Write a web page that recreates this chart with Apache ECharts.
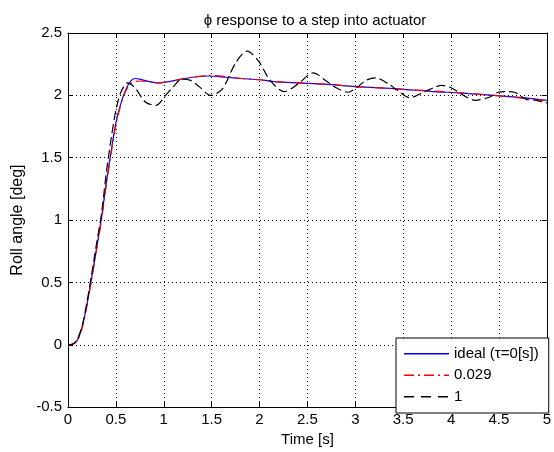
<!DOCTYPE html>
<html>
<head>
<meta charset="utf-8">
<script src="https://cdn.jsdelivr.net/npm/echarts@6/dist/echarts.min.js"></script>
<style>
  html, body { margin: 0; padding: 0; background: #fff; }
  #chart { width: 554px; height: 452px; }
</style>
</head>
<body>
<div id="chart"></div>
<script>
// Step response of the roll angle for three actuator time constants
const xTicks = [0, 0.5, 1, 1.5, 2, 2.5, 3, 3.5, 4, 4.5, 5];
const yTicks = [-0.5, 0, 0.5, 1, 1.5, 2, 2.5];
const seriesNames = ['ideal (τ=0[s])', '0.029', '1'];

// [time (s), roll angle (deg)]
const idealResponse = [
  [0, 0], [0.05, 0.005], [0.1, 0.04], [0.15, 0.15], [0.2, 0.33], [0.25, 0.55],
  [0.3, 0.78], [0.35, 1.02], [0.4, 1.3], [0.45, 1.55], [0.5, 1.78], [0.55, 1.93],
  [0.6, 2.04], [0.65, 2.11], [0.7, 2.135], [0.75, 2.13], [0.85, 2.11], [0.95, 2.1],
  [1.05, 2.11], [1.15, 2.125], [1.3, 2.145], [1.47, 2.155], [1.65, 2.145],
  [1.81, 2.135], [2.0, 2.125], [2.16, 2.11], [2.4, 2.1], [2.68, 2.09], [3.0, 2.07],
  [3.25, 2.06], [3.47, 2.05], [3.82, 2.03], [4.09, 2.02], [4.44, 2.0], [4.78, 1.98],
  [5.0, 1.96]
];
const tau0029Response = [
  [0, 0], [0.05, 0.004], [0.1, 0.035], [0.15, 0.14], [0.2, 0.32], [0.25, 0.54],
  [0.3, 0.77], [0.35, 1.0], [0.4, 1.28], [0.45, 1.53], [0.5, 1.76], [0.55, 1.92],
  [0.6, 2.03], [0.65, 2.09], [0.7, 2.11], [0.75, 2.115], [0.85, 2.11], [0.95, 2.1],
  [1.05, 2.11], [1.15, 2.125], [1.3, 2.145], [1.47, 2.16], [1.65, 2.15],
  [1.81, 2.135], [2.0, 2.125], [2.16, 2.11], [2.4, 2.1], [2.68, 2.09], [3.0, 2.07],
  [3.25, 2.06], [3.47, 2.05], [3.82, 2.035], [4.09, 2.02], [4.44, 2.0], [4.78, 1.975],
  [5.0, 1.955]
];
const tau1Response = [
  [0, 0], [0.05, 0.005], [0.1, 0.05], [0.15, 0.16], [0.2, 0.35], [0.25, 0.58],
  [0.3, 0.82], [0.35, 1.05], [0.4, 1.38], [0.45, 1.65], [0.5, 1.88], [0.55, 2.02],
  [0.62, 2.1], [0.7, 2.06], [0.81, 1.945], [0.92, 1.92], [1.02, 2.0], [1.1, 2.07],
  [1.19, 2.13], [1.28, 2.12], [1.37, 2.07], [1.49, 2.0], [1.61, 2.05], [1.75, 2.26],
  [1.87, 2.355], [1.99, 2.275], [2.11, 2.12], [2.26, 2.03], [2.4, 2.09], [2.56, 2.18],
  [2.69, 2.12], [2.78, 2.07], [2.92, 2.025], [3.02, 2.065], [3.11, 2.12], [3.21, 2.14],
  [3.35, 2.09], [3.44, 2.04], [3.57, 1.98], [3.71, 2.025], [3.83, 2.065], [3.9, 2.08],
  [3.99, 2.065], [4.13, 2.0], [4.25, 1.96], [4.4, 1.985], [4.49, 2.025], [4.56, 2.03],
  [4.66, 2.025], [4.78, 1.97], [4.89, 1.96], [5.0, 1.94]
];

const FONT = 'Liberation Sans, Arial, Helvetica, sans-serif';
const FS = 15;
const COLORS = ['#0000ff', '#ff0000', '#000000'];
const DASHES = ['solid', [10, 4, 2, 4], [9, 4]];

// Legend swatches: [start, end] segments of a 45 px line, one list per series
const SWATCH_W = 45, SWATCH_H = 13, SWATCH_LINE = 1.6;
const swatchSegments = [
  [[0, 45]],
  [[0, 10], [14, 16], [20, 30], [34, 36], [40, 45]],
  [[0, 10], [17, 27], [34, 44]]
];
function swatchPath(segments) {
  // tiny anchors keep the full swatch box so the thin line is not stretched
  let d = 'M0,0h0.01v0.01h-0.01z M' + (SWATCH_W - 0.01) + ',' + (SWATCH_H - 0.01) + 'h0.01v0.01h-0.01z';
  const y = Math.floor(SWATCH_H / 2);
  segments.forEach(([a, b]) => {
    d += ' M' + a + ',' + y + 'h' + (b - a) + 'v' + SWATCH_LINE + 'h' + (a - b) + 'z';
  });
  return 'path://' + d;
}

const chart = echarts.init(document.getElementById('chart'), null, { renderer: 'canvas' });

const gridLine = { show: true, lineStyle: { color: '#000', width: 1, type: [1, 3] } };
const axisLine = { show: true, onZero: false, lineStyle: { color: '#000', width: 1 } };
const tickIn = { show: true, inside: true, length: 5, lineStyle: { color: '#000' } };
const label = { color: '#000', fontFamily: FONT, fontSize: FS };

const curves = [idealResponse, tau0029Response, tau1Response];

chart.setOption({
  animation: false,
  backgroundColor: '#fff',
  title: {
    text: 'ϕ response to a step into actuator',
    left: 310, top: 8, textAlign: 'center',
    textStyle: { color: '#000', fontFamily: FONT, fontSize: FS, fontWeight: 'normal' }
  },
  grid: { left: 68, top: 33, right: 3, bottom: 40, containLabel: false },
  legend: {
    orient: 'vertical',
    left: 396, top: 338,
    padding: [8, 10, 9, 8],
    itemWidth: SWATCH_W, itemHeight: SWATCH_H, itemGap: 6.5,
    backgroundColor: '#fff', borderColor: '#000', borderWidth: 1, borderRadius: 0,
    textStyle: { color: '#000', fontFamily: FONT, fontSize: FS },
    data: seriesNames.map((name, i) => ({
      name: name,
      icon: swatchPath(swatchSegments[i]),
      itemStyle: { color: COLORS[i], borderWidth: 0 }
    }))
  },
  xAxis: [{
    type: 'value', min: xTicks[0], max: xTicks[xTicks.length - 1], interval: 0.5,
    name: 'Time [s]', nameLocation: 'middle', nameGap: 23,
    nameTextStyle: { color: '#000', fontFamily: FONT, fontSize: FS },
    axisLine: axisLine, axisTick: tickIn, splitLine: gridLine,
    axisLabel: Object.assign({ margin: 5, formatter: v => String(v) }, label)
  }, {
    type: 'value', position: 'top', min: xTicks[0], max: xTicks[xTicks.length - 1], interval: 0.5,
    axisLine: axisLine, axisTick: tickIn, splitLine: { show: false }, axisLabel: { show: false }
  }],
  yAxis: [{
    type: 'value', min: yTicks[0], max: yTicks[yTicks.length - 1], interval: 0.5,
    name: 'Roll angle [deg]', nameLocation: 'middle', nameGap: 37,
    nameTextStyle: { color: '#000', fontFamily: FONT, fontSize: 16 },
    axisLine: axisLine, axisTick: tickIn, splitLine: gridLine,
    axisLabel: Object.assign({ margin: 6, formatter: v => String(v) }, label)
  }, {
    type: 'value', position: 'right', min: yTicks[0], max: yTicks[yTicks.length - 1], interval: 0.5,
    axisLine: axisLine, axisTick: tickIn, splitLine: { show: false }, axisLabel: { show: false }
  }],
  series: seriesNames.map((name, i) => ({
    name: name, type: 'line', data: curves[i],
    showSymbol: false, symbol: 'none', smooth: 0.3,
    lineStyle: { color: COLORS[i], width: 1.2, type: DASHES[i] },
    itemStyle: { color: COLORS[i] }
  }))
});
</script>
</body>
</html>
